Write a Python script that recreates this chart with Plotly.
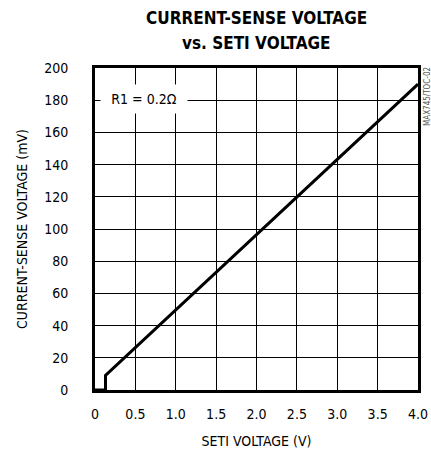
import plotly.graph_objects as go

# Data
seti_v = [0.0, 0.13, 0.13, 4.0]
sense_mv = [0.0, 0.0, 9.0, 190.0]

x_tickvals = [0, 0.5, 1.0, 1.5, 2.0, 2.5, 3.0, 3.5, 4.0]
x_ticktext = ["0", "0.5", "1.0", "1.5", "2.0", "2.5", "3.0", "3.5", "4.0"]
y_tickvals = [0, 20, 40, 60, 80, 100, 120, 140, 160, 180, 200]
y_ticktext = [str(v) for v in y_tickvals]

FONT = "DejaVu Sans Condensed, Roboto, sans-serif"

W, H = 431, 452
L, R, T, B = 95, 13, 68, 62
pw, ph = W - L - R, H - T - B


def px2paper(px, py):
    return (px - L) / pw, (H - B - py) / ph


fig = go.Figure()
fig.add_trace(go.Scatter(x=seti_v, y=sense_mv, mode="lines",
                         line=dict(color="black", width=3), showlegend=False,
                         hoverinfo="skip"))

fig.add_annotation(x=0.06, y=181, xref="x", yref="y", xanchor="left",
                   yanchor="middle",
                   text="R1 = 0.2Ω", showarrow=False, bgcolor="white",
                   width=84, height=26, align="center",
                   font=dict(family=FONT, size=14, color="black"))

mx, my = px2paper(427, 97)
fig.add_annotation(x=mx, y=my, xref="paper", yref="paper", xanchor="center",
                   yanchor="middle", text="MAX745/TOC-02", textangle=-90,
                   showarrow=False, font=dict(family=FONT, size=8, color="#555"))

t1x, t1y = px2paper(256, 18)
t2x, t2y = px2paper(256, 43)
fig.add_annotation(x=t1x, y=t1y, xref="paper", yref="paper", showarrow=False,
                   xanchor="center", yanchor="middle",
                   text="<b>CURRENT-SENSE VOLTAGE</b>",
                   font=dict(family=FONT, size=17, color="black"))
fig.add_annotation(x=t2x, y=t2y, xref="paper", yref="paper", showarrow=False,
                   xanchor="center", yanchor="middle",
                   text="<b>vs. SETI VOLTAGE</b>",
                   font=dict(family=FONT, size=17, color="black"))

fig.update_layout(
    width=W, height=H,
    margin=dict(l=L, r=R, t=T, b=B),
    paper_bgcolor="white", plot_bgcolor="white",
    font=dict(family=FONT, size=14, color="black"),
)
fig.update_xaxes(range=[0, 4.0], tickvals=x_tickvals, ticktext=x_ticktext,
                 showgrid=True, gridcolor="black", gridwidth=1,
                 showline=True, linecolor="black", linewidth=3, mirror=True,
                 zeroline=False, ticks="", ticklabelstandoff=9, automargin=False,
                 tickfont=dict(family=FONT, size=14),
                 title=dict(text="SETI VOLTAGE (V)", standoff=16,
                            font=dict(family=FONT, size=14)))
fig.update_yaxes(range=[0, 200], tickvals=y_tickvals, ticktext=y_ticktext,
                 showgrid=True, gridcolor="black", gridwidth=1,
                 showline=True, linecolor="black", linewidth=3, mirror=True,
                 zeroline=False, ticks="", ticklabelstandoff=21, automargin=False,
                 tickfont=dict(family=FONT, size=14),
                 title=dict(text="CURRENT-SENSE VOLTAGE (mV)", standoff=14,
                            font=dict(family=FONT, size=14)))

fig.write_html("out.html",
               config={"displayModeBar": False},
               post_script="document.body.style.margin='0';"
                           "document.body.style.overflow='hidden';")
